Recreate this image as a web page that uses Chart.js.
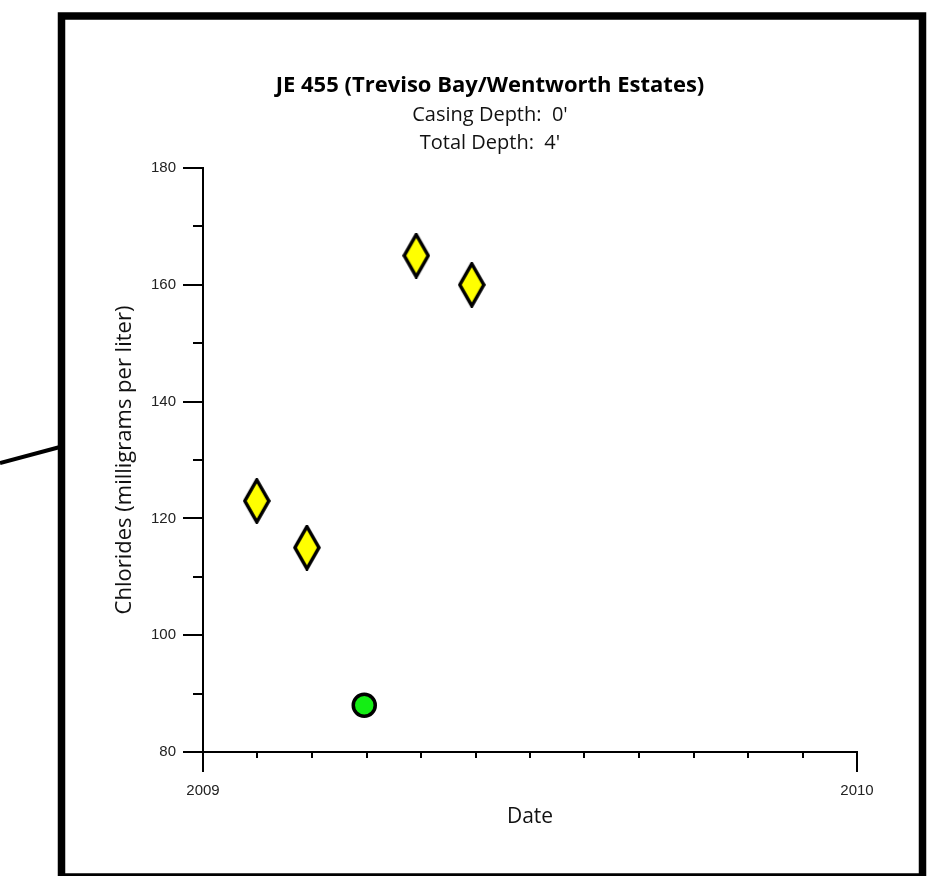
<!DOCTYPE html>
<html>
<head>
<meta charset="utf-8">
<title>JE 455 Chlorides</title>
<script src="https://cdn.jsdelivr.net/npm/chart.js@4.4.1/dist/chart.umd.min.js"></script>
<style>
    html, body { margin: 0; padding: 0; background: #fff; }
    canvas { display: block; }
</style>
</head>
<body>
<canvas id="chlorides" width="948" height="876"></canvas>
<script>
const chartTitle = 'JE 455 (Treviso Bay/Wentworth Estates)'
const chartSubtitle = ["Casing Depth:  0'", "Total Depth:  4'"]
const yAxisTitle = 'Chlorides (milligrams per liter)'
const xAxisTitle = 'Date'

// diamonds
const diamondDates = ['2009-01-31', '2009-02-28', '2009-04-30', '2009-05-31']
const diamondValues = [123, 115, 165, 160]
// green circle
const circleDates = ['2009-04-01']
const circleValues = [88]

const yearStart = 2009
const yearEnd = 2010
const yMin = 80
const yMax = 180

function toYearFraction(dateStr) {
    const [y, m, d] = dateStr.split('-').map(Number)
    const start = Date.UTC(y, 0, 1)
    const end = Date.UTC(y + 1, 0, 1)
    return y + (Date.UTC(y, m - 1, d) - start) / (end - start)
}

function toPoints(dates, values) {
    return dates.map((d, i) => ({ x: toYearFraction(d), y: values[i] }))
}

function makeDiamond() {
    const c = document.createElement('canvas')
    c.width = 28
    c.height = 46
    const ctx = c.getContext('2d')
    ctx.beginPath()
    ctx.moveTo(14, 2)
    ctx.lineTo(26, 23)
    ctx.lineTo(14, 44)
    ctx.lineTo(2, 23)
    ctx.closePath()
    ctx.fillStyle = '#ffff00'
    ctx.fill()
    ctx.lineWidth = 3.5
    ctx.strokeStyle = '#000'
    ctx.stroke()
    return c
}

function isYear(v) {
    return Math.abs(v - Math.round(v)) < 1e-6
}

// frame around the plot and the leader line outside it
const framePlugin = {
    id: 'frame',
    beforeDraw(chart) {
        const ctx = chart.ctx
        ctx.save()
        ctx.fillStyle = '#fff'
        ctx.fillRect(0, 0, chart.width, chart.height)
        ctx.strokeStyle = '#000'
        ctx.lineWidth = 4
        ctx.beginPath()
        ctx.moveTo(0, 463)
        ctx.lineTo(60, 447)
        ctx.stroke()
        ctx.lineWidth = 7.5
        ctx.strokeRect(61.5, 16, 861, 861)
        ctx.restore()
    }
}

// tick marks: long for labelled ticks, short for the others
const tickMarksPlugin = {
    id: 'tickMarks',
    afterDraw(chart) {
        const ctx = chart.ctx
        const area = chart.chartArea
        const xs = chart.scales.x
        const ys = chart.scales.y
        ctx.save()
        ctx.strokeStyle = '#000'
        ctx.lineWidth = 2
        ctx.beginPath()
        ys.ticks.forEach(t => {
            const py = Math.round(ys.getPixelForValue(t.value))
            const len = t.value % 20 === 0 ? 20 : 10
            ctx.moveTo(area.left - len, py)
            ctx.lineTo(area.left, py)
        })
        xs.ticks.forEach(t => {
            const px = Math.round(xs.getPixelForValue(t.value))
            const len = isYear(t.value) ? 20 : 6
            ctx.moveTo(px, area.bottom)
            ctx.lineTo(px, area.bottom + len)
        })
        ctx.stroke()
        ctx.restore()
    }
}

const textFont = "'Open Sans', sans-serif"
const tickFont = "'Liberation Sans', Arial, sans-serif"

const config = {
    type: 'scatter',
    data: {
        datasets: [
            {
                label: 'Chlorides',
                data: toPoints(diamondDates, diamondValues),
                pointStyle: makeDiamond(),
                pointRadius: 14
            },
            {
                label: 'Chlorides (other)',
                data: toPoints(circleDates, circleValues),
                pointStyle: 'circle',
                pointRadius: 11,
                pointBorderWidth: 3.5,
                backgroundColor: '#14ee14',
                borderColor: '#000'
            }
        ]
    },
    options: {
        responsive: false,
        animation: false,
        devicePixelRatio: 1,
        layout: {
            padding: { left: 32, top: 0, right: 0, bottom: 0 }
        },
        plugins: {
            legend: { display: false },
            tooltip: { enabled: false },
            title: {
                display: true,
                text: chartTitle,
                color: '#000',
                font: { family: textFont, size: 22, weight: 'bold', lineHeight: '26px' },
                padding: { top: 73, bottom: 0 }
            },
            subtitle: {
                display: true,
                text: chartSubtitle,
                color: '#111',
                font: { family: textFont, size: 20, lineHeight: '28px' },
                padding: { top: 2, bottom: 11 }
            }
        },
        scales: {
            x: {
                type: 'linear',
                min: yearStart,
                max: yearEnd,
                grid: { display: false },
                border: { display: true, color: '#000', width: 2 },
                afterBuildTicks(scale) {
                    const ticks = []
                    for (let k = 0; k <= 12; k++) ticks.push({ value: yearStart + k / 12 })
                    scale.ticks = ticks
                },
                afterFit(scale) {
                    scale.height = 124
                    scale.paddingRight = 91
                },
                ticks: {
                    autoSkip: false,
                    maxRotation: 0,
                    padding: 22,
                    color: '#222',
                    font: { family: tickFont, size: 15 },
                    callback: (v) => isYear(v) ? String(Math.round(v)) : ''
                },
                title: {
                    display: true,
                    text: xAxisTitle,
                    color: '#111',
                    font: { family: textFont, size: 21 },
                    padding: { top: 0, bottom: 46 }
                }
            },
            y: {
                min: yMin,
                max: yMax,
                grid: { display: false },
                border: { display: true, color: '#000', width: 2 },
                afterFit(scale) {
                    scale.width = 171
                },
                ticks: {
                    stepSize: 10,
                    padding: 19,
                    color: '#222',
                    font: { family: tickFont, size: 15 },
                    callback: (v) => v % 20 === 0 ? String(v) : ''
                },
                title: {
                    display: true,
                    text: yAxisTitle,
                    color: '#111',
                    font: { family: textFont, size: 22 },
                    padding: { top: 80, bottom: 0 }
                }
            }
        }
    },
    plugins: [framePlugin, tickMarksPlugin]
}

new Chart(document.getElementById('chlorides'), config)
</script>
</body>
</html>
